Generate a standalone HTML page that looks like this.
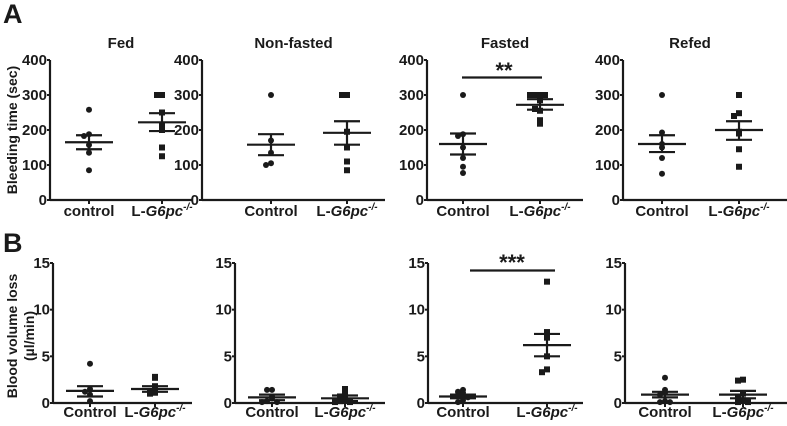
<!DOCTYPE html>
<html><head><meta charset="utf-8"><style>
body{margin:0;background:#fff}
svg{display:block;font-family:"Liberation Sans",Arial,sans-serif;font-weight:bold}
</style></head><body>
<svg id="fig" width="787" height="426" viewBox="0 0 787 426"></svg>
<script>
const panelTitles=["Fed","Non-fasted","Fasted","Refed"];
const ctrlLabelsA=["control","Control","Control","Control"];
const ticksA=[0,100,200,300,400];
const ticksB=[0,5,10,15];
const aCtrl=[[258,188,183,157,135,85],[300,170,135,105,100],[300,188,183,150,120,95,77],[300,193,160,150,120,75]];
const aKO=[[300,300,250,215,200,150,125],[300,300,195,150,110,85],[300,300,300,300,285,255,260,228,218],[300,248,240,195,190,145,95]];
const aCtrlStats=[[165,185,145],[158,188,128],[160,190,130],[160,185,137]];
const aKOStats=[[222,248,197],[192,225,158],[272,288,258],[200,225,172]];
const bCtrl=[[4.2,1.5,1.2,0.9,0.2],[1.4,1.4,0.7,0.5,0.2,0.1,0.1],[1.4,1.2,1.1,0.9,0.6,0.3,0.1],[2.7,1.4,1.1,0.9,0.2,0.1,0.1]];
const bKO=[[2.8,2.7,1.8,1.5,1.2,1.1,1.0],[1.5,1.0,0.7,0.4,0.2,0.1,0.1],[13,7.6,7.0,5.0,3.6,3.3],[2.5,2.4,1.0,0.7,0.3,0.1,0.1]];
const bCtrlStats=[[1.3,1.8,0.7],[0.6,0.9,0.3],[0.7,0.9,0.5],[0.9,1.2,0.6]];
const bKOStats=[[1.5,1.8,1.2],[0.5,0.8,0.2],[6.2,7.4,5.0],[0.9,1.3,0.5]];

const svg=document.getElementById('fig');
const NS="http://www.w3.org/2000/svg";
function mk(tag,attrs,parent,text){const e=document.createElementNS(NS,tag);for(const k in attrs)e.setAttribute(k,attrs[k]);if(text!==undefined)e.textContent=text;(parent||svg).appendChild(e);return e;}

const geoA=[{ax:50,c:89,k:162,end:192},{ax:202,c:271,k:347,end:385},{ax:427,c:463,k:540,end:583},{ax:623,c:662,k:739,end:787}];
const geoB=[{ax:53,c:90,k:155,end:192},{ax:235,c:272,k:345,end:385},{ax:428,c:463,k:547,end:583},{ax:625,c:665,k:743,end:787}];

function panel(g,ticks,maxV,yTop,yBot,ctrl,ko,cs,ks,ctrlLbl,title,name,lblY){
  const grp=mk('g',{});
  
  
  const y=v=>yBot-(v/maxV)*(yBot-yTop);
  const ax=mk('line',{x1:g.ax,y1:yTop,x2:g.ax,y2:yBot,stroke:'#1a1a1a','stroke-width':2.2},grp);
  
  const xa=mk('line',{x1:g.ax,y1:yBot,x2:g.end,y2:yBot,stroke:'#1a1a1a','stroke-width':2.2},grp);
  
  ticks.forEach(t=>{
    mk('line',{x1:g.ax-3,y1:y(t),x2:g.ax,y2:y(t),stroke:'#1a1a1a','stroke-width':2},grp);
    const tl=mk('text',{x:g.ax-3,y:y(t)+5,'text-anchor':'end','font-size':15,fill:'#1a1a1a'},grp,String(t));
    
  });
  [g.c,g.k].forEach(x=>mk('line',{x1:x,y1:yBot,x2:x,y2:yBot+4,stroke:'#1a1a1a','stroke-width':2},grp));
  const cl=mk('text',{x:g.c,y:lblY,'text-anchor':'middle','font-size':15,fill:'#1a1a1a'},grp,ctrlLbl);
  
  const kl=mk('text',{x:g.k,y:lblY,'text-anchor':'middle','font-size':15,fill:'#1a1a1a'},grp);
  
  mk('tspan',{},kl,'L-');mk('tspan',{'font-style':'italic'},kl,'G6pc');mk('tspan',{'font-size':10,dy:-6,'font-style':'italic'},kl,'-/-');
  if(title){const t=mk('text',{x:(g.ax+g.end)/2+(g.end===787?-15:0),y:48,'text-anchor':'middle','font-size':15,fill:'#1a1a1a'},grp,title);
    }
  function draw(vals,cx,sq){
    const offs=[0,-5,5,-10,10,-3,3,-8,8];
    const seen={};
    vals.forEach(v=>{
      const key=Math.round(y(v)/5);seen[key]=(seen[key]||0);const o=offs[seen[key]%offs.length];seen[key]++;
      let p;
      if(sq)p=mk('rect',{x:cx+o-3,y:y(v)-3,width:6,height:6,fill:'#1a1a1a'},grp);
      else p=mk('circle',{cx:cx+o,cy:y(v),r:3,fill:'#1a1a1a'},grp);
      
    });
  }
  function stats(s,cx){
    const m=mk('line',{x1:cx-24,y1:y(s[0]),x2:cx+24,y2:y(s[0]),stroke:'#1a1a1a','stroke-width':2.2},grp);
    
    mk('line',{x1:cx,y1:y(s[1]),x2:cx,y2:y(s[2]),stroke:'#1a1a1a','stroke-width':2.2},grp);
    [s[1],s[2]].forEach(v=>mk('line',{x1:cx-13,y1:y(v),x2:cx+13,y2:y(v),stroke:'#1a1a1a','stroke-width':2.2},grp));
  }
  draw(ctrl,g.c,false);draw(ko,g.k,true);stats(cs,g.c);stats(ks,g.k);
  return y;
}
for(let i=0;i<4;i++){
  const yA=panel(geoA[i],ticksA,400,60,200,aCtrl[i],aKO[i],aCtrlStats[i],aKOStats[i],ctrlLabelsA[i],panelTitles[i],'bleeding-panel-'+(i+1),216);
  const yB=panel(geoB[i],ticksB,15,263,403,bCtrl[i],bKO[i],bCtrlStats[i],bKOStats[i],'Control',null,'volume-panel-'+(i+1),417);
  if(i===2){
    const s1=mk('line',{x1:462,y1:yA(350),x2:542,y2:yA(350),stroke:'#1a1a1a','stroke-width':2.2});
    
    const t1=mk('text',{x:504,y:78,'text-anchor':'middle','font-size':22,fill:'#1a1a1a'},svg,'**');
    
    const s2=mk('line',{x1:470,y1:yB(14.2),x2:555,y2:yB(14.2),stroke:'#1a1a1a','stroke-width':2.2});
    
    const t2=mk('text',{x:512,y:270,'text-anchor':'middle','font-size':22,fill:'#1a1a1a'},svg,'***');
    
  }
}
const A=mk('text',{x:3,y:23,'font-size':27,fill:'#1a1a1a'},svg,'A');

const B=mk('text',{x:3,y:252,'font-size':27,fill:'#1a1a1a'},svg,'B');

const yl=mk('text',{x:0,y:0,transform:'translate(17,130) rotate(-90)','text-anchor':'middle','font-size':14,fill:'#1a1a1a'},svg,'Bleeding time (sec)');

const yb1=mk('text',{x:0,y:0,transform:'translate(17,336) rotate(-90)','text-anchor':'middle','font-size':14,fill:'#1a1a1a'},svg,'Blood volume loss');

const yb2=mk('text',{x:0,y:0,transform:'translate(34,336) rotate(-90)','text-anchor':'middle','font-size':14,fill:'#1a1a1a'},svg,'(µl/min)');

</script>
</body></html>
